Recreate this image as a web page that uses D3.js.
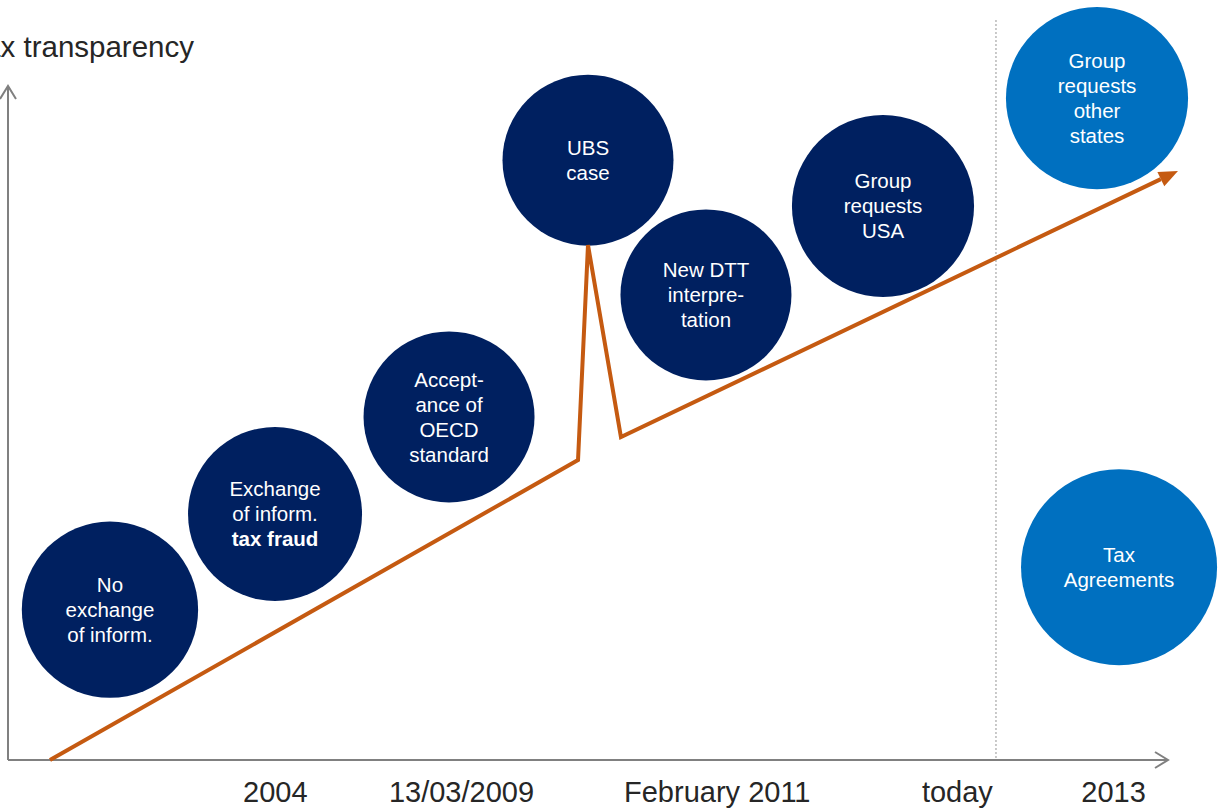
<!DOCTYPE html>
<meta charset="utf-8">
<style>
  body { margin: 0; background: #fff; }
  svg { display: block; font-family: "Liberation Sans", Arial, sans-serif; }
</style>

<script src="https://d3js.org/d3.v7.min.js"></script>

<div id="my_dataviz"></div>

<script>
// chart data (x and y in chart units 0..100)
var yTitle = "Tax transparency";

var tickPos = [23.0, 39.05, 61.1, 81.8, 95.26];
var tickLabels = ["2004", "13/03/2009", "February 2011", "today", "2013"];

var eventLabels = [
  ["No", "exchange", "of inform."],
  ["Exchange", "of inform.", "*tax fraud"],
  ["Accept-", "ance of", "OECD", "standard"],
  ["UBS", "case"],
  ["New DTT", "interpre-", "tation"],
  ["Group", "requests", "USA"],
  ["Group", "requests", "other", "states"],
  ["Tax", "Agreements"]
];
var eventX = [8.79, 23.02, 38.02, 50.0, 60.17, 75.43, 93.88, 95.78];
var eventY = [22.3, 36.5, 50.9, 89.0, 69.0, 82.2, 98.2, 28.6];
var eventSize = [7.6, 7.5, 7.37, 7.37, 7.37, 7.85, 7.85, 8.45];
var eventFuture = [false, false, false, false, false, false, true, true];

// the transparency path
var trendX = [3.62, 49.14, 50.0, 52.84, 100.86];
var trendY = [0, 44.5, 76.4, 47.9, 87.4];

var todayPos = 85.17;

// dimensions
var width = 1219, height = 809;
var axisLeft = 8, axisRight = 1168, axisBottom = 760, axisTop = 86;

var svg = d3.select("#my_dataviz")
  .append("svg")
    .attr("width", width)
    .attr("height", height);

var x = d3.scaleLinear().domain([0, 100]).range([axisLeft, axisRight]);
var y = d3.scaleLinear().domain([0, 100]).range([axisBottom, axisTop]);

// dotted "today" separator
svg.append("line")
  .attr("x1", x(todayPos)).attr("x2", x(todayPos))
  .attr("y1", 20).attr("y2", axisBottom)
  .attr("stroke", "#a6a6a6")
  .attr("stroke-width", 1.2)
  .attr("stroke-dasharray", "2,2");

// axes lines with open arrow heads
var axisColor = "#808080";
svg.append("path")
  .attr("d", "M" + x(0) + "," + y(0) + "V" + axisTop + "M" + (x(0) - 8) + "," + (axisTop + 13) +
             "L" + x(0) + "," + axisTop + "L" + (x(0) + 8) + "," + (axisTop + 13))
  .attr("fill", "none").attr("stroke", axisColor).attr("stroke-width", 2);
svg.append("path")
  .attr("d", "M" + x(0) + "," + y(0) + "H" + axisRight + "M" + (axisRight - 13) + "," + (axisBottom - 8) +
             "L" + axisRight + "," + axisBottom + "L" + (axisRight - 13) + "," + (axisBottom + 8))
  .attr("fill", "none").attr("stroke", axisColor).attr("stroke-width", 2);

// x tick labels
var xAxis = svg.append("g")
  .attr("transform", "translate(0," + axisBottom + ")")
  .call(d3.axisBottom(x)
    .tickValues(tickPos)
    .tickFormat(function(d, i) { return tickLabels[i]; })
    .tickSize(0)
    .tickPadding(21));
xAxis.select(".domain").remove();
xAxis.selectAll("text")
  .attr("font-size", "29px")
  .attr("font-family", "'Liberation Sans', Arial, sans-serif")
  .attr("fill", "#262626");

// y title (partly cut at the left edge)
svg.append("text")
  .attr("x", 194)
  .attr("y", 57)
  .attr("text-anchor", "end")
  .attr("font-size", "29.5px")
  .attr("fill", "#262626")
  .text(yTitle);

// event bubbles
var events = eventLabels.map(function(l, i) {
  return { lines: l, x: eventX[i], y: eventY[i], r: eventSize[i], future: eventFuture[i] };
});

var bubble = svg.selectAll(".event")
  .data(events)
  .enter()
  .append("g")
    .attr("class", "event")
    .attr("transform", function(d) { return "translate(" + x(d.x) + "," + y(d.y) + ")"; });

bubble.append("circle")
  .attr("r", function(d) { return x(d.r) - x(0); })
  .attr("fill", function(d) { return d.future ? "#0070c0" : "#002060"; });

var lineH = 25, fs = 20.5;
bubble.each(function(d) {
  var n = d.lines.length;
  d3.select(this).selectAll("text")
    .data(d.lines)
    .enter()
    .append("text")
      .attr("text-anchor", "middle")
      .attr("y", function(t, i) { return (i - (n - 1) / 2) * lineH + fs * 0.35; })
      .attr("font-size", fs + "px")
      .attr("font-weight", function(t) { return t[0] === "*" ? "bold" : "normal"; })
      .attr("fill", "#fff")
      .text(function(t) { return t[0] === "*" ? t.slice(1) : t; });
});

// trend line with arrow
var trend = trendX.map(function(v, i) { return [x(v), y(trendY[i])]; });
var orange = "#c55a11";
var last = trend[trend.length - 1], prev = trend[trend.length - 2];
var ang = Math.atan2(last[1] - prev[1], last[0] - prev[0]);
var headLen = 19, headW = 8;
var base = [last[0] - headLen * Math.cos(ang), last[1] - headLen * Math.sin(ang)];
var linePts = trend.slice(0, -1).concat([base]);

svg.append("path")
  .datum(linePts)
  .attr("d", d3.line())
  .attr("fill", "none")
  .attr("stroke", orange)
  .attr("stroke-width", 4)
  .attr("stroke-linejoin", "miter");

svg.append("path")
  .attr("d", "M" + last[0] + "," + last[1] +
    "L" + (base[0] + headW * Math.sin(ang)) + "," + (base[1] - headW * Math.cos(ang)) +
    "L" + (base[0] - headW * Math.sin(ang)) + "," + (base[1] + headW * Math.cos(ang)) + "Z")
  .attr("fill", orange);
</script>
